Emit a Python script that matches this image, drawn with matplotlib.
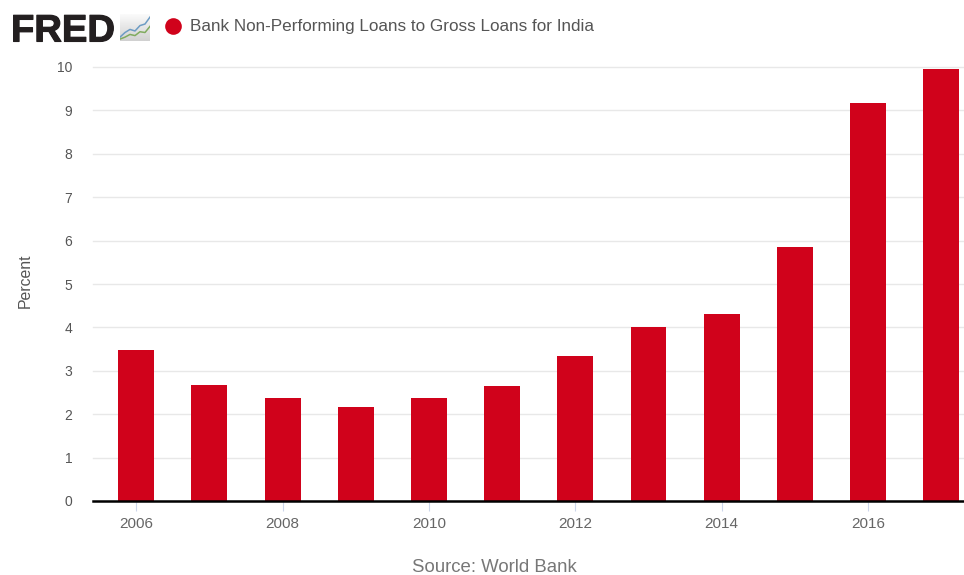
import matplotlib
matplotlib.use("Agg")
import matplotlib.pyplot as plt
import matplotlib.patheffects as pe
from matplotlib.lines import Line2D
import numpy as np

plt.rcParams['font.family'] = ['Liberation Sans', 'DejaVu Sans']

# Annual NPL ratio for India
years = [2006, 2007, 2008, 2009, 2010, 2011, 2012, 2013, 2014, 2015, 2016, 2017]
npl = [3.48, 2.67, 2.37, 2.17, 2.37, 2.65, 3.35, 4.00, 4.31, 5.85, 9.17, 9.95]
year_ticks = [2006, 2008, 2010, 2012, 2014, 2016]
pct_ticks = list(range(0, 11))

# Little logo chart lines
logo_blue = [1.0, 2.2, 3.0, 2.6, 4.0, 4.4, 6.2]
logo_green = [0.5, 1.0, 1.7, 1.4, 2.4, 2.2, 3.8]

W, H = 964, 575
fig = plt.figure(figsize=(W / 100, H / 100), dpi=100, facecolor="white")
ax = fig.add_axes([93 / W, 1 - 501 / H, 871 / W, 434 / H])

ax.bar(years, npl, width=0.49, color="#d0021b", zorder=3)
ax.set_xlim(2005.41, 2017.31)
ax.set_ylim(0, 10)

ax.set_yticks(pct_ticks)
ax.set_xticks(year_ticks)
ax.grid(axis="y", color="#e8e8e8", linewidth=1.0, zorder=0, clip_on=False)
ax.tick_params(axis="y", length=0, pad=15, labelsize=10, labelcolor="#555555")
ax.tick_params(axis="x", length=7, width=0.8, color="#ccd6eb", pad=4.5,
               labelsize=11, labelcolor="#666666")
for side in ["top", "left", "right"]:
    ax.spines[side].set_visible(False)
ax.spines["bottom"].set_color("black")
ax.spines["bottom"].set_linewidth(1.8)
ax.spines["bottom"].set_zorder(5)
ax.set_ylabel("Percent", fontsize=11.4, color="#555555")
ax.yaxis.set_label_coords(-60 / 871, 0.507)

# Header: logo, legend dot and series name
fig.text(11 / W, 1 - 27.5 / H, "FRED", fontsize=27.5, fontweight="bold", color="#231f20",
         va="center_baseline", ha="left",
         path_effects=[pe.withStroke(linewidth=0.8, foreground="#231f20")])
logo = fig.add_axes([120 / W, 1 - 41 / H, 30 / W, 27 / H])
logo.imshow(np.linspace(0.98, 0.82, 20).reshape(-1, 1), cmap="gray", vmin=0, vmax=1,
            aspect="auto", extent=[0, 6, 0, 7])
logo.plot(range(7), logo_blue, color="#6d9cc4", lw=1.1)
logo.plot(range(7), logo_green, color="#80ab5f", lw=1.1)
logo.set_xlim(0, 6)
logo.set_ylim(0, 7)
logo.axis("off")

fig.add_artist(Line2D([172.7 / W], [1 - 25.5 / H], transform=fig.transFigure, marker="o",
                      markersize=12, color="#d0021b", markeredgewidth=0))
fig.text(190 / W, 1 - 26.5 / H, "Bank Non-Performing Loans to Gross Loans for India",
         fontsize=12.3, color="#555555", va="center", ha="left")
fig.text(494 / W, 1 - 568 / H, "Source: World Bank", fontsize=13.4, color="#777777",
         va="center", ha="center")

fig.savefig("out.png", dpi=100)
